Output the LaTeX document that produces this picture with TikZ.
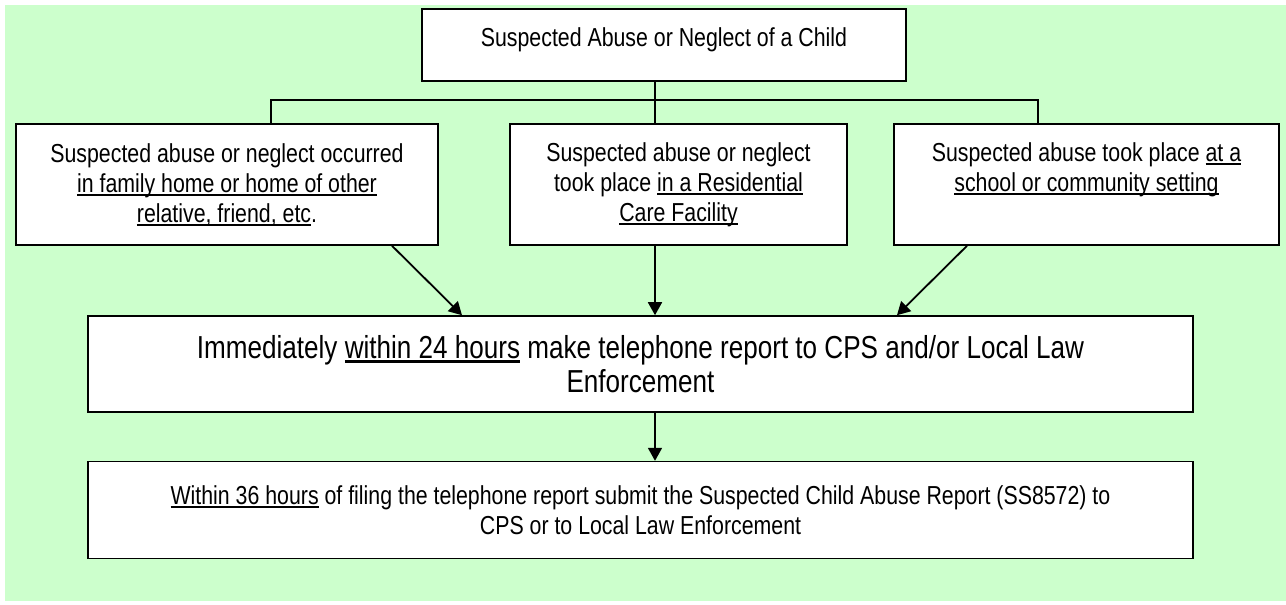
\documentclass[tikz,border=0pt]{standalone}
\usepackage{fontspec}
\setmainfont{Liberation Sans}[FakeStretch=0.82]
\usepackage{tikz}
\usetikzlibrary{arrows.meta,positioning,calc}
\definecolor{paleGreen}{RGB}{204,255,204}

% underline that sits just under the baseline, like a word processor
\newcommand{\undl}[1]{\setbox0\hbox{#1}\rlap{\rule[-0.145em]{\wd0}{0.07em}}\box0\relax}

\tikzset{
  box/.style={draw,fill=white,line width=0.8pt,inner sep=0pt,align=center,
    font=\fontsize{13}{15}\selectfont},
  arr/.style={-{Triangle[length=6.5pt,width=7pt]},line width=0.9pt}
}

\begin{document}
\begin{tikzpicture}[x=0.5pt,y=-0.5pt,node distance=24pt]
  \useasboundingbox (0,0) rectangle (1286,605);
  \fill[paleGreen] (5,5) rectangle (1286,601);

  \node[box,minimum width=242pt,minimum height=36pt,text depth=8pt] (top) at (664,45) {Suspected Abuse or Neglect of a Child};
  \node[box,minimum width=211pt,minimum height=60.5pt] (home) at (227,184.5) {Suspected abuse or neglect occurred\\ \undl{in family home or home of other}\\ \undl{relative, friend, etc}.};
  \node[box,minimum width=168.5pt,minimum height=60.5pt] (care) at (678.5,184.5) {Suspected abuse or neglect\\ took place \undl{in a Residential}\\ \undl{Care Facility}};
  \node[box,minimum width=192.5pt,minimum height=60.5pt] (school) at (1086.5,184.5) {Suspected abuse took place \undl{at a}\\ \undl{school or community setting}\\ \phantom{Xy}};
  \node[box,minimum width=552.5pt,minimum height=48pt,font=\fontsize{15.9}{17.3}\selectfont] (phone) at (640.5,364) {Immediately \undl{within 24 hours} make telephone report to CPS and/or Local Law\\ Enforcement};
  \node[box,minimum width=552.5pt,minimum height=48.5pt,below=of phone] (report) {\undl{Within 36 hours} of filing the telephone report submit the Suspected Child Abuse Report (SS8572) to\\ CPS or to Local Law Enforcement};

  % branch lines
  \coordinate (split) at (655,100);
  \draw[line width=0.9pt] ([xshift=-4.5pt]top.south) -- ([xshift=-11.75pt]care.north);
  \draw[line width=0.9pt] ([xshift=22pt]home.north) |- (split) -| ([xshift=-24.25pt]school.north);

  \foreach \a/\sa/\b/\sb in {home/82.5/phone/-89.25,care/-11.75/phone/7.25,school/-59.75/phone/128.25,phone/7.25/report/7.25}{\draw[arr] ([xshift=\sa pt]\a.south) -- ([xshift=\sb pt]\b.north);}
\end{tikzpicture}
\end{document}
